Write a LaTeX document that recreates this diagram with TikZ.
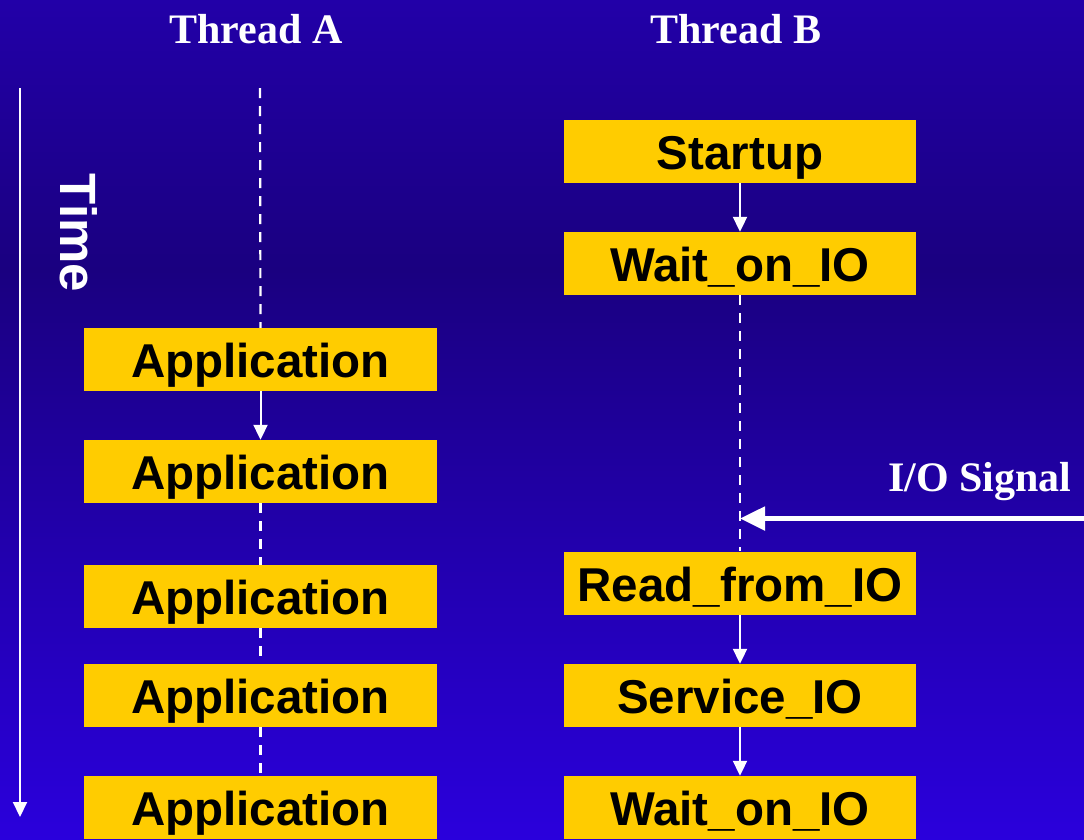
\documentclass[tikz,border=0pt]{standalone}
\usepackage{fontspec}
\setmainfont{Liberation Serif}
\setsansfont{Liberation Sans}
\usetikzlibrary{arrows.meta}
\definecolor{bgtop}{RGB}{34,0,168}
\definecolor{bgmid}{RGB}{26,0,128}
\definecolor{bgbot}{RGB}{42,0,220}
\definecolor{boxyellow}{RGB}{255,204,0}
\tikzset{
  stepbox/.style={fill=boxyellow, inner sep=0pt, minimum height=63pt, minimum width=352pt,
    text height=36pt, text depth=0pt,
    font=\sffamily\bfseries\fontsize{47.5}{50}\selectfont, text=black},
  head/.style={text=white, font=\rmfamily\bfseries\fontsize{42}{44}\selectfont, anchor=base},
  flow/.style={white, line width=2pt, -{Triangle[length=15pt,width=14pt]}},
  waitline/.style={white, line width=2.2pt, dash pattern=on 10pt off 8pt},
}
\begin{document}
\begin{tikzpicture}[x=1pt,y=-1pt]
\useasboundingbox (0,0) rectangle (1084,839);
\shade[top color=bgtop, bottom color=bgmid] (0,0) rectangle (1084,270);
\shade[top color=bgmid, bottom color=bgbot] (0,269.5) rectangle (1084,839);

% headers
\node[head] (ta) at (256,43) {Thread A};
\node[head] (tb) at (736,43) {Thread B};
\node[head] (sig) at (980,491) {I/O Signal};

% time axis
\coordinate (t0) at (20,88);
\coordinate (t1) at (20,817);
\draw[flow] (t0) -- (t1);
\node[rotate=-90, text=white, font=\sffamily\bfseries\fontsize{51}{54}\selectfont, inner sep=0pt] (time) at (79,233) {Time};

% thread A
\node[stepbox, minimum width=353pt] (a1) at (260.5,359.5) {Application};
\node[stepbox, minimum width=353pt] (a2) at (260.5,471.5) {Application};
\node[stepbox, minimum width=353pt] (a3) at (260.5,596.5) {Application};
\node[stepbox, minimum width=353pt] (a4) at (260.5,695.5) {Application};
\node[stepbox, minimum width=353pt] (a5) at (260.5,807.5) {Application};
\coordinate (atop) at (260,88);
\draw[waitline] (atop) -- (a1.north);
\draw[flow] (a1.south) -- (a2.north);
\draw[waitline] (a2.south) -- (a3.north);
\draw[waitline] (a3.south) -- (a4.north);
\draw[waitline] (a4.south) -- (a5.north);

% thread B
\node[stepbox] (b1) at (740,151) {Startup};
\node[stepbox] (b2) at (740,263.5) {Wait\_on\_IO};
\node[stepbox] (b3) at (740,583) {Read\_from\_IO};
\node[stepbox] (b4) at (740,695.5) {Service\_IO};
\node[stepbox] (b5) at (740,807.5) {Wait\_on\_IO};
\draw[flow] (b1.south) -- (b2.north);
\draw[waitline] (b2.south) -- (b3.north);
\draw[flow] (b3.south) -- (b4.north);
\draw[flow] (b4.south) -- (b5.north);

% I/O signal
\coordinate (sigstart) at (1086,518.5);
\coordinate (sigend) at (740,518.5);
\draw[white, line width=5pt, -{Triangle[length=25pt,width=23pt]}] (sigstart) -- (sigend);
\end{tikzpicture}
\end{document}
